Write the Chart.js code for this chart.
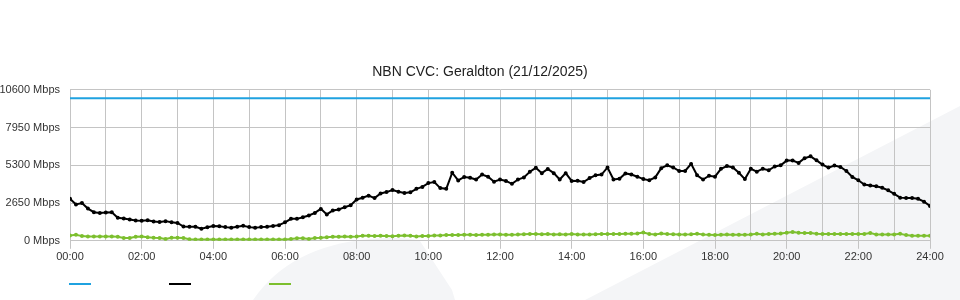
<!DOCTYPE html>
<html><head><meta charset="utf-8">
<script src="https://cdn.jsdelivr.net/npm/chart.js@4"></script>
<style>html,body{margin:0;padding:0;background:#fff}#wrap{width:960px;height:300px;position:relative}</style>
</head><body><div id="wrap"><canvas id="c" width="960" height="300"></canvas></div>
<script>
const chartTitle = 'NBN CVC: Geraldton (21/12/2025)';
// sample times in minutes after midnight (10-minute samples)
const times = [0,10,20,30,40,50,60,70,80,90,100,110,120,130,140,150,160,170,180,190,200,210,220,230,240,250,260,270,280,290,300,310,320,330,340,350,360,370,380,390,400,410,420,430,440,450,460,470,480,490,500,510,520,530,540,550,560,570,580,590,600,610,620,630,640,650,660,670,680,690,700,710,720,730,740,750,760,770,780,790,800,810,820,830,840,850,860,870,880,890,900,910,920,930,940,950,960,970,980,990,1000,1010,1020,1030,1040,1050,1060,1070,1080,1090,1100,1110,1120,1130,1140,1150,1160,1170,1180,1190,1200,1210,1220,1230,1240,1250,1260,1270,1280,1290,1300,1310,1320,1330,1340,1350,1360,1370,1380,1390,1400,1410,1420,1430,1440];
const capacity = [10000,10000,10000,10000,10000,10000,10000,10000,10000,10000,10000,10000,10000,10000,10000,10000,10000,10000,10000,10000,10000,10000,10000,10000,10000,10000,10000,10000,10000,10000,10000,10000,10000,10000,10000,10000,10000,10000,10000,10000,10000,10000,10000,10000,10000,10000,10000,10000,10000,10000,10000,10000,10000,10000,10000,10000,10000,10000,10000,10000,10000,10000,10000,10000,10000,10000,10000,10000,10000,10000,10000,10000,10000,10000,10000,10000,10000,10000,10000,10000,10000,10000,10000,10000,10000,10000,10000,10000,10000,10000,10000,10000,10000,10000,10000,10000,10000,10000,10000,10000,10000,10000,10000,10000,10000,10000,10000,10000,10000,10000,10000,10000,10000,10000,10000,10000,10000,10000,10000,10000,10000,10000,10000,10000,10000,10000,10000,10000,10000,10000,10000,10000,10000,10000,10000,10000,10000,10000,10000,10000,10000,10000,10000,10000,10000];
const download = [2950,2550,2650,2260,2010,1960,1980,2000,1620,1560,
 1500,1420,1400,1440,1350,1320,1380,1300,1250,1000,
 990,990,850,950,1040,1020,960,920,990,1060,
 960,920,960,990,1040,1100,1300,1540,1540,1650,
 1780,1960,2240,1850,2130,2200,2360,2500,2900,3020,
 3170,3000,3320,3420,3560,3450,3360,3400,3650,3780,
 4050,4120,3700,3650,4780,4240,4480,4430,4300,4650,
 4500,4150,4300,4200,4000,4300,4450,4850,5120,4750,
 5040,4750,4300,4750,4200,4220,4130,4400,4600,4650,
 5150,4310,4360,4730,4650,4500,4330,4250,4450,5100,
 5300,5150,4900,4900,5400,4600,4300,4570,4500,5050,
 5250,5150,4780,4330,5050,4850,5060,4950,5220,5300,
 5630,5630,5470,5800,5930,5650,5350,5140,5280,5180,
 4900,4480,4250,3950,3880,3830,3720,3540,3300,3030,
 3000,3000,2950,2750,2450];
const upload = [380,430,330,300,300,300,300,300,290,200,
 200,280,300,250,220,200,120,220,220,200,
 110,90,90,90,90,90,90,90,90,90,
 90,90,90,90,90,90,90,120,180,180,
 120,200,220,250,280,280,300,290,300,350,
 360,340,350,340,320,350,370,360,300,330,
 330,370,380,400,400,410,420,420,410,420,
 430,450,440,430,430,440,460,470,480,460,
 470,450,460,450,480,450,440,450,460,470,
 470,480,480,490,500,520,580,480,450,520,
 470,460,440,440,460,500,440,430,400,430,
 440,430,430,430,440,490,440,480,500,520,
 560,620,570,540,540,490,470,470,470,470,
 470,470,470,480,540,450,440,440,450,500,
 400,350,350,350,350];
const yTicks = [0,2650,5300,7950,10600];
const xTickMinutes = [0,60,120,180,240,300,360,420,480,540,600,660,720,780,840,900,960,1020,1080,1140,1200,1260,1320,1380,1440];

const pts = arr => times.map((t, i) => ({x: t, y: arr[i]}));
const fmt = m => String(Math.floor(m / 60)).padStart(2, '0') + ':' + String(m % 60).padStart(2, '0');
const GRID = '#c4c4c4';
const LEGEND_GAP = '                  ';

const watermark = {
  id: 'watermark',
  beforeDraw(chart) {
    const c = chart.ctx;
    c.save();
    c.fillStyle = '#f4f5f7';
    c.beginPath();
    c.moveTo(585, 300); c.lineTo(960, 106); c.lineTo(960, 300); c.closePath();
    c.fill();
    c.beginPath();
    c.moveTo(253, 300);
    c.quadraticCurveTo(290, 246, 370, 239);
    c.quadraticCurveTo(405, 236, 420, 241);
    c.lineTo(452, 290); c.lineTo(455, 300); c.closePath();
    c.fill();
    c.restore();
  }
};

const boxOffsets = {
  id: 'boxOffsets',
  afterLayout(chart) {
    if (chart.legend) { chart.legend.left = 57; }
    if (chart.titleBlock) { chart.titleBlock.left = 0; chart.titleBlock.right = chart.width; }
  }
};

Chart.defaults.font.family = "'Liberation Sans', Arial, sans-serif";
Chart.defaults.color = '#333';

new Chart(document.getElementById('c'), {
  type: 'line',
  data: {
    datasets: [
      {label: LEGEND_GAP, data: pts(capacity), borderColor: '#1fa2e0', backgroundColor: '#1fa2e0', borderWidth: 2, pointRadius: 0, tension: 0},
      {label: LEGEND_GAP, data: pts(download), borderColor: '#000000', backgroundColor: '#000000', borderWidth: 2, pointRadius: 1, pointHoverRadius: 1, tension: 0},
      {label: LEGEND_GAP, data: pts(upload), borderColor: '#7cbf2e', backgroundColor: '#7cbf2e', borderWidth: 2, pointRadius: 1, pointHoverRadius: 1, tension: 0}
    ]
  },
  options: {
    responsive: false,
    devicePixelRatio: 1,
    animation: false,
    layout: {padding: {left: 0, right: 30, top: 0, bottom: 0}},
    scales: {
      x: {
        type: 'linear', min: 0, max: 1440,
        afterBuildTicks: s => { s.ticks = xTickMinutes.map(v => ({value: v})); },
        ticks: {autoSkip: false, maxRotation: 0, padding: 2, color: '#333', font: {size: 11},
          callback: v => (v % 120 === 0 ? fmt(v) : '')},
        grid: {color: GRID, lineWidth: 1, tickLength: 8,
          tickColor: ctx => (ctx.tick && ctx.tick.value % 120 === 0 ? GRID : 'rgba(0,0,0,0)')},
        border: {color: GRID}
      },
      y: {
        min: 0, max: 10600,
        afterBuildTicks: s => { s.ticks = yTicks.map(v => ({value: v})); },
        afterFit: s => { s.width = 70; },
        ticks: {padding: 10, color: '#333', font: {size: 11}, callback: v => v + ' Mbps'},
        grid: {color: GRID, lineWidth: 1, drawTicks: false},
        border: {color: GRID}
      }
    },
    plugins: {
      title: {display: true, text: chartTitle, color: '#222', font: {size: 14, weight: 'normal'}, padding: {top: 64, bottom: 9}},
      legend: {position: 'bottom', align: 'start',
        labels: {usePointStyle: true, pointStyle: 'line', pointStyleWidth: 22, padding: 12, font: {size: 12}}},
      tooltip: {enabled: false}
    }
  },
  plugins: [watermark, boxOffsets]
});
</script></body></html>
